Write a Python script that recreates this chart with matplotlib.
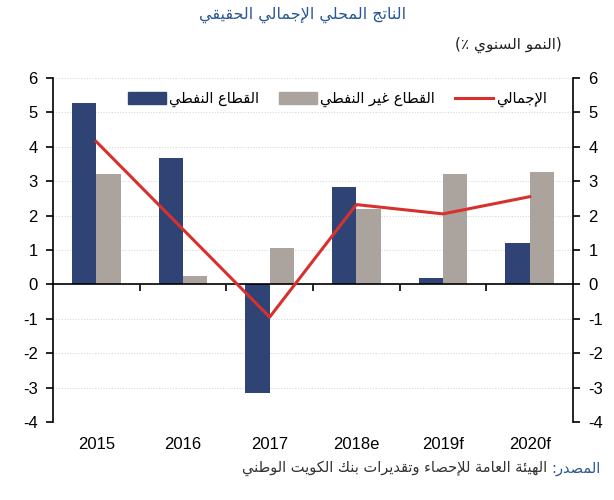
import matplotlib
matplotlib.use('Agg')
import matplotlib.pyplot as plt
from matplotlib.lines import Line2D
from matplotlib.patches import Patch
import matplotlib.transforms as mtransforms
import numpy as np

years = ['2015', '2016', '2017', '2018e', '2019f', '2020f']
oil = [5.26, 3.68, -3.15, 2.82, 0.18, 1.2]
non_oil = [3.2, 0.25, 1.05, 2.2, 3.2, 3.28]
total = [4.15, 1.6, -0.95, 2.32, 2.05, 2.55]

title_txt = 'الناتج المحلي الإجمالي الحقيقي'
unit_txt = '(النمو السنوي ٪)'
lbl_oil = 'القطاع النفطي'
lbl_non_oil = 'القطاع غير النفطي'
lbl_total = 'الإجمالي'
src_head = 'المصدر:'
src_body = 'الهيئة العامة للإحصاء وتقديرات بنك الكويت الوطني'

NAVY = '#2f4474'
GREY = '#aba39e'
RED = '#d8312d'
BLUE_TXT = '#2a5795'

# --- simple arabic shaping (matplotlib has no complex text layout) ---
FOUR = {'ئ': 0xFE89, 'ب': 0xFE8F, 'ت': 0xFE95, 'ث': 0xFE99, 'ج': 0xFE9D, 'ح': 0xFEA1,
        'خ': 0xFEA5, 'س': 0xFEB1, 'ش': 0xFEB5, 'ص': 0xFEB9, 'ض': 0xFEBD, 'ط': 0xFEC1,
        'ظ': 0xFEC5, 'ع': 0xFEC9, 'غ': 0xFECD, 'ف': 0xFED1, 'ق': 0xFED5, 'ك': 0xFED9,
        'ل': 0xFEDD, 'م': 0xFEE1, 'ن': 0xFEE5, 'ه': 0xFEE9, 'ي': 0xFEF1}
TWO = {'آ': 0xFE81, 'أ': 0xFE83, 'ؤ': 0xFE85, 'إ': 0xFE87, 'ا': 0xFE8D, 'ة': 0xFE93,
       'د': 0xFEA9, 'ذ': 0xFEAB, 'ر': 0xFEAD, 'ز': 0xFEAF, 'و': 0xFEED, 'ى': 0xFEEF}
ONE = {'ء': 0xFE80}
LAM_ALEF = {'آ': 0xFEF5, 'أ': 0xFEF7, 'إ': 0xFEF9, 'ا': 0xFEFB}
MIRROR = {'(': ')', ')': '('}


def is_letter(c):
    return c in FOUR or c in TWO or c in ONE


def shape(text):
    chars = list(text)
    out = []
    i = 0
    while i < len(chars):
        c = chars[i]
        prev = chars[i - 1] if i > 0 else ''
        joins_prev = prev in FOUR
        if c == 'ل' and i + 1 < len(chars) and chars[i + 1] in LAM_ALEF:
            out.append(chr(LAM_ALEF[chars[i + 1]] + (1 if joins_prev else 0)))
            i += 2
            continue
        nxt = chars[i + 1] if i + 1 < len(chars) else ''
        if c in FOUR:
            joins_next = is_letter(nxt)
            form = {(False, False): 0, (True, False): 1,
                    (False, True): 2, (True, True): 3}[(joins_prev, joins_next)]
            out.append(chr(FOUR[c] + form))
        elif c in TWO:
            out.append(chr(TWO[c] + (1 if joins_prev else 0)))
        elif c in ONE:
            out.append(chr(ONE[c]))
        else:
            out.append(c)
        i += 1
    # visual order, left to right
    return ''.join(MIRROR.get(c, c) for c in reversed(out))


plt.rcParams['font.family'] = ['Liberation Sans', 'DejaVu Sans']
plt.rcParams['axes.unicode_minus'] = False
AR = ['DejaVu Sans']

fig = plt.figure(figsize=(6.14, 5.0), dpi=100)
ax = fig.add_axes([0.0863, 0.156, 0.847, 0.688])

x = np.arange(len(years))
w = 0.28
ax.bar(x - w / 2, oil, w, color=NAVY, zorder=2)
ax.bar(x + w / 2, non_oil, w, color=GREY, zorder=2)
ax.plot(x, total, color=RED, lw=2.2, zorder=3)

ax.set_xlim(-0.5, len(years) - 0.5)
ax.set_ylim(-4, 6)
ax.set_yticks(range(-4, 7))
ax.yaxis.grid(True, color='#d8d8d8', ls=(0, (1, 1.5)), lw=0.8)
ax.set_axisbelow(True)

ax.spines['top'].set_visible(False)
ax.spines['bottom'].set_position(('data', 0))
for s in ['left', 'right', 'bottom']:
    ax.spines[s].set_linewidth(1.2)

# ticks between the categories on the zero line, labels at the bottom
ax.set_xticks(x[:-1] + 0.5)
ax.set_xticklabels([])
ax.tick_params(axis='x', direction='out', length=5, width=1.2)
ax.tick_params(axis='y', direction='out', length=5, width=1.2, labelsize=12,
               left=True, right=True, labelleft=True, labelright=True, pad=6)

trans = mtransforms.blended_transform_factory(ax.transData, ax.transAxes)
for xi, yr in zip(x, years):
    ax.text(xi, -0.045, yr, transform=trans, ha='center', va='top', fontsize=12)

handles = [Patch(color=NAVY), Patch(color=GREY), Line2D([], [], color=RED, lw=2.2)]
labels = [shape(lbl_oil), shape(lbl_non_oil), shape(lbl_total)]
ax.legend(handles, labels, loc='upper right', bbox_to_anchor=(0.975, 1.0), ncol=3,
          frameon=False, prop={'family': AR, 'size': 10.5}, handlelength=2.6,
          handleheight=0.8, handletextpad=0.2, columnspacing=1.4)

fig.text(0.493, 0.97, shape(title_txt), family=AR, fontsize=11.5, color=BLUE_TXT,
         ha='center', va='center')
fig.text(0.915, 0.91, shape(unit_txt), family=AR, fontsize=11, color='#222222',
         ha='right', va='center')

head = fig.text(0.978, 0.063, shape(src_head), family=AR, fontsize=10.5,
                color=BLUE_TXT, ha='right', va='center')
ax.annotate(shape(src_body), xy=(0, 0.5), xycoords=head, xytext=(-3, 0),
            textcoords='offset points', ha='right', va='center',
            family=AR, fontsize=10.5, color='#333333', annotation_clip=False)

fig.savefig('out.png', dpi=100)
